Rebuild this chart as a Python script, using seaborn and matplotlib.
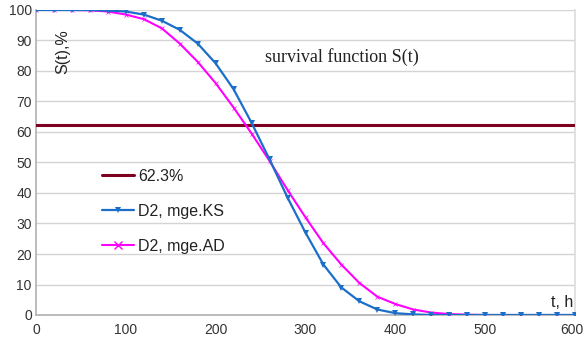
import numpy as np
import pandas as pd
import matplotlib
matplotlib.use("Agg")
import matplotlib.pyplot as plt
import matplotlib.transforms as mtransforms
import seaborn as sns

t = list(range(0, 601, 20))
ks = [100, 100, 100, 100, 99.8, 99.5, 98.5, 96.5, 93.5, 89, 82.5, 74, 63, 51, 38.5, 27,
      16.5, 9, 4.5, 1.8, 0.6, 0.2, 0, 0, 0, 0, 0, 0, 0, 0, 0]
ad = [100, 100, 100, 99.9, 99.5, 98.5, 97, 94, 89, 83, 76, 68, 59.5, 50.5, 41, 32,
      23.5, 16.5, 10.5, 6, 3.6, 1.8, 0.8, 0.3, 0.1, 0, 0, 0, 0, 0, 0]
level = 62.3
labels = ["62.3%", "D2, mge.KS", "D2, mge.AD"]

sns.set_theme(style="white")
plt.rcParams['font.family'] = ['Liberation Sans', 'DejaVu Sans']

fig = plt.figure(figsize=(5.86, 3.45), dpi=100)
ax = fig.add_axes([36/586, 1-315/345, 539/586, 305/345])

df = pd.DataFrame({"t": t, "ks": ks, "ad": ad})
ax.axhline(level, color="#7e0021", lw=2.2, label=labels[0], zorder=3)
sns.lineplot(data=df, x="t", y="ad", ax=ax, color="#ff00ff", lw=1.5, marker="x",
             markersize=2.5, markeredgewidth=0.5, markeredgecolor="#ff00ff",
             label=labels[2], zorder=4)
sns.lineplot(data=df, x="t", y="ks", ax=ax, color="#1c6fc9", lw=1.6, marker="v",
             markersize=4.5, markeredgewidth=0, label=labels[1], zorder=5)

ax.set_xlim(0, 600)
ax.set_ylim(0, 100)
ax.set_xticks(range(0, 601, 100))
ax.set_yticks(range(0, 101, 10))
ax.grid(axis="y", color="#d4d4d4", lw=1)
ax.set_axisbelow(True)
for s in ["left", "bottom"]:
    ax.spines[s].set_color("#b3b3b3")
ax.spines["right"].set_color("#dddddd")
ax.spines["top"].set_visible(False)
ax.tick_params(axis="both", labelsize=10, colors="#333333", length=4, width=1,
               direction="out", color="#b3b3b3", pad=2)
ax.tick_params(axis="y", length=0, pad=3)
ax.set_xlabel("")
ax.set_ylabel("")

fig.canvas.draw()
last = ax.get_xticklabels()[-1]
last.set_transform(last.get_transform() +
                   mtransforms.ScaledTranslation(-3/100, 0, fig.dpi_scale_trans))

h, l = ax.get_legend_handles_labels()
order = [l.index(x) for x in labels]
leg = ax.legend([h[i] for i in order], [l[i] for i in order], loc="upper left",
                bbox_to_anchor=(0.11, 0.50), frameon=False, fontsize=11.5,
                labelspacing=1.25, handlelength=2.0, handletextpad=0.3,
                labelcolor="#222222", borderaxespad=0)
for lh in leg.get_lines():
    if lh.get_color() == "#ff00ff":
        lh.set_markersize(6)
        lh.set_markeredgewidth(1)

ax.text(0.425, 0.83, "survival function S(t)", transform=ax.transAxes,
        fontsize=13, family="Liberation Serif", color="#222222")
ax.text(0.035, 0.80, "S(t),%", transform=ax.transAxes, rotation=90,
        fontsize=11.5, color="#222222")
ax.text(0.955, 0.025, "t, h", transform=ax.transAxes, fontsize=11.5, color="#222222")

fig.savefig("out.png", dpi=100)
